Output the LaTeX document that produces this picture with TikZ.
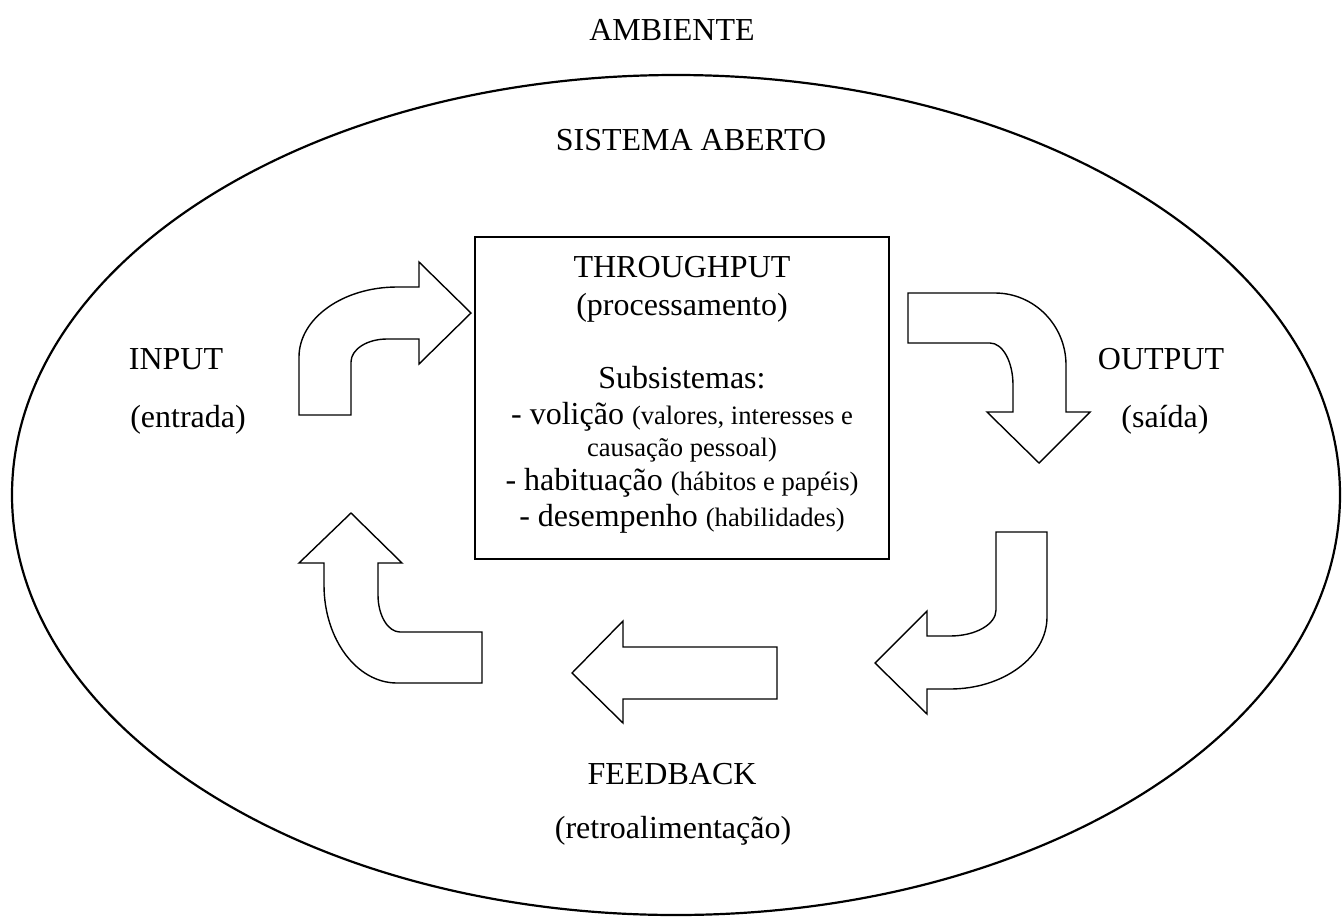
\documentclass[tikz,border=0pt]{standalone}
\usepackage{fontspec}
\setmainfont{Liberation Serif}

\tikzset{
  lbl/.style={anchor=base, font=\fontsize{16}{18}\selectfont},
  bigarrow/.style={draw, line width=0.7pt, line join=miter, fill=white},
}
\newcommand{\smalltxt}[1]{{\fontsize{13.3}{15}\selectfont #1}}

\begin{document}
\begin{tikzpicture}[x=0.5pt, y=-0.5pt]
\useasboundingbox (0,0) rectangle (1343,916);

% ambiente e sistema aberto
\node[lbl] (amb) at (672,40) {AMBIENTE};
\draw[line width=1.1pt] (676,495) ellipse [x radius=332pt, y radius=210pt];
\node[lbl] (sist) at (691,150) {SISTEMA ABERTO};

% caixa central
\draw[line width=0.7pt] (475,237) rectangle (889,559);
\foreach \nm/\yy/\txt in {
  thru/277/{THROUGHPUT},
  proc/315/{(processamento)},
  subs/388/{Subsistemas:},
  vol/424/{- volição \smalltxt{(valores, interesses e}},
  caus/456/{\smalltxt{causação pessoal)}},
  hab/490/{- habituação \smalltxt{(hábitos e papéis)}},
  des/526/{- desempenho \smalltxt{(habilidades)}}}
  \node[lbl] (\nm) at (682,\yy) {\txt};

% rotulos
\node[lbl] (inp) at (176,369) {INPUT};
\node[lbl] (ent) at (188,427) {(entrada)};
\node[lbl] (outp) at (1161,369) {OUTPUT};
\node[lbl] (sai) at (1165,427) {(saída)};
\node[lbl] (feed) at (672,784) {FEEDBACK};
\node[lbl] (retro) at (673,838) {(retroalimentação)};

% setas
\draw[bigarrow] (299,415) -- (299,357)
  .. controls (299,318.4) and (342.9,287) .. (397,287)
  -- (419,287) -- (419,262) -- (471,313) -- (419,364) -- (419,339) -- (387,339)
  .. controls (367.1,339) and (351,349.3) .. (351,362) -- (351,415) -- cycle;

\draw[bigarrow] (908,293) -- (995,293)
  .. controls (1034.2,293) and (1066,325.3) .. (1066,365)
  -- (1066,412) -- (1090,412) -- (1039,463) -- (987,412) -- (1013,412) -- (1013,385)
  .. controls (1013,361.8) and (1002.7,343) .. (990,343) -- (908,343) -- cycle;

\draw[bigarrow] (996,532) -- (1047,532) -- (1047,617)
  .. controls (1047,656.7) and (1003.5,689) .. (950,689)
  -- (927,689) -- (927,714) -- (875,663) -- (927,611) -- (927,636) -- (950,636)
  .. controls (975.4,636) and (996,624.4) .. (996,610) -- cycle;

\draw[bigarrow] (572,673) -- (623,621) -- (623,647) -- (777,647) -- (777,699)
  -- (623,699) -- (623,723) -- cycle;

\draw[bigarrow] (351,513) -- (402,563) -- (378,563) -- (378,595)
  .. controls (378,615.4) and (387.9,632) .. (400,632)
  -- (482,632) -- (482,683) -- (397,683)
  .. controls (356.7,683) and (324,639.1) .. (324,585)
  -- (324,563) -- (299,563) -- cycle;
\end{tikzpicture}
\end{document}
